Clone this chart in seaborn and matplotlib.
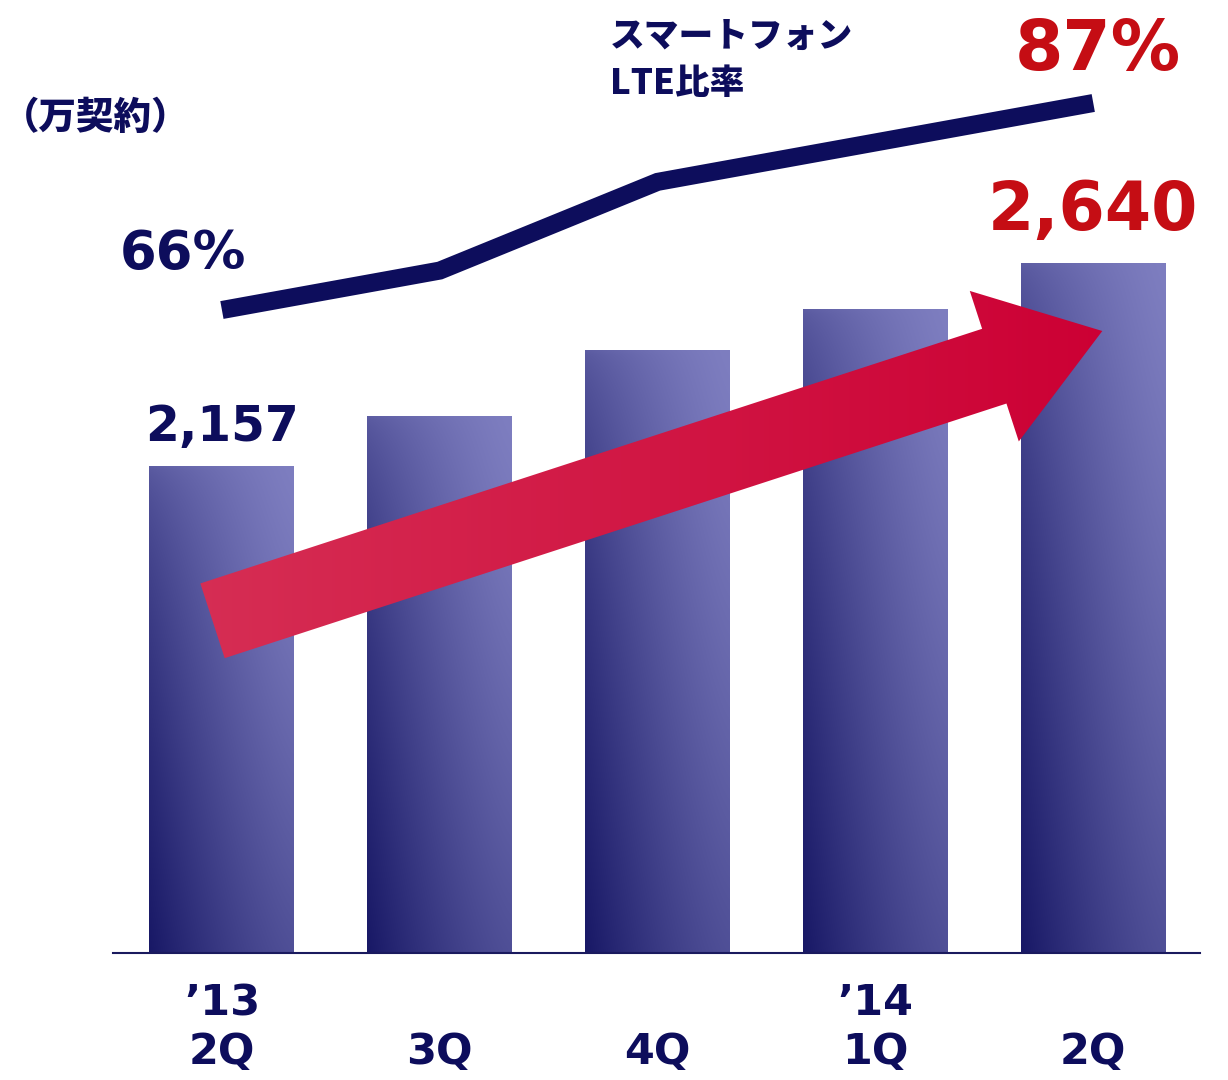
import numpy as np
import pandas as pd
import matplotlib
matplotlib.use("Agg")
import matplotlib.pyplot as plt
import seaborn as sns
from matplotlib.patches import FancyArrow

# ---- data ----
quarters = ["2Q'13", "3Q'13", "4Q'13", "1Q'14", "2Q'14"]
tick_labels = ["\u201913\n2Q", "\n3Q", "\n4Q", "\u201914\n1Q", "\n2Q"]
contracts = [2157, 2276, 2433, 2530, 2640]      # 万契約
lte_ratio = [66, 70, 79, 83, 87]                # %
unit_label = "（万契約）"
series_label = "スマートフォン\nLTE比率"

NAVY = "#0d0d5c"
RED = "#c50d14"

sns.set_theme(style="white")
plt.rcParams["font.family"] = ["DejaVu Sans", "Noto Sans CJK JP"]

W, H = 1228, 1080
fig = plt.figure(figsize=(W / 100, H / 100), dpi=100)
fig.patch.set_facecolor("white")

ax_left, ax_right, ax_bottom_px = 113, 1200, 953
ax = fig.add_axes([ax_left / W, (H - ax_bottom_px) / H,
                   (ax_right - ax_left) / W, ax_bottom_px / H])
ax.set_facecolor("none")

df = pd.DataFrame({"quarter": quarters, "contracts": contracts})
sns.barplot(data=df, x="quarter", y="contracts", color="#7c7cbe",
            width=0.665, ax=ax, zorder=2)

y_bottom, y_top = 1000, 3264
x_lo, x_hi = -0.5, 4.49

# gradient bars
L = np.array([126, 126, 192]) / 255.0
D = np.array([22, 22, 100]) / 255.0
n = 160
u = np.linspace(0, 1, n)[None, :]
v = np.linspace(1, 0, n)[:, None]   # top row v=1
t_left = 0.32 + 0.66 * (1 - v) ** 0.6
t_right = 0.45 * (1 - v) ** 1.2
t = (1 - u) ** 1.3 * t_left + (1 - (1 - u) ** 1.3) * t_right
t = np.clip(t, 0, 1)
grad = (1 - t)[..., None] * L + t[..., None] * D
for p in ax.patches:
    x0 = p.get_x()
    x1 = x0 + p.get_width()
    top = p.get_y() + p.get_height()
    im = ax.imshow(grad, extent=(x0, x1, y_bottom, top), aspect="auto",
                   zorder=2, interpolation="bilinear")
    im.set_clip_path(p)
    p.set_facecolor("none")
    p.set_edgecolor("none")

# value labels on first and last bars
ax.annotate(f"{contracts[0]:,}", xy=(0, contracts[0]), xytext=(0, 28),
            textcoords="offset points", ha="center", va="center",
            fontsize=35, fontweight="bold", color=NAVY)
ax.annotate(f"{contracts[-1]:,}", xy=(4, contracts[-1]), xytext=(0, 37),
            textcoords="offset points", ha="center", va="center",
            fontsize=48, fontweight="bold", color=RED)

ax.set_xlim(x_lo, x_hi)
ax.set_ylim(y_bottom, y_top)
ax.set_xticks(range(len(tick_labels)))
ax.set_xticklabels(tick_labels, fontsize=31, fontweight="bold", color=NAVY,
                   linespacing=1.2)
ax.tick_params(axis="x", length=0, pad=21)
ax.set_yticks([])
ax.set_xlabel("")
ax.set_ylabel("")
for s in ["top", "left", "right"]:
    ax.spines[s].set_visible(False)
ax.spines["bottom"].set_color("#1a1a5e")
ax.spines["bottom"].set_linewidth(1.5)
ax.grid(False)

# ratio line on twin axis
ax2 = ax.twinx()
sns.lineplot(x=np.arange(len(lte_ratio)), y=lte_ratio, ax=ax2, color=NAVY,
             linewidth=13, solid_capstyle="butt", solid_joinstyle="miter",
             zorder=3)
ax2.set_ylim(0.77, 97.45)
ax2.set_xlim(x_lo, x_hi)
ax2.set_yticks([])
ax2.set_ylabel("")
ax2.grid(False)
for s in ax2.spines.values():
    s.set_visible(False)

ax2.annotate(f"{lte_ratio[0]}%", xy=(0, lte_ratio[0]), xytext=(-28, 40),
             textcoords="offset points", ha="center", va="center",
             fontsize=38, fontweight="bold", color=NAVY)
ax2.annotate(f"{lte_ratio[-1]}%", xy=(4, lte_ratio[-1]), xytext=(3, 38),
             textcoords="offset points", ha="center", va="center",
             fontsize=50, fontweight="bold", color=RED)

# overlay (pixel coordinates) for the trend arrow and titles
ov = fig.add_axes([0, 0, 1, 1])
ov.set_xlim(0, W)
ov.set_ylim(H, 0)
ov.axis("off")
ov.set_facecolor("none")

tail = np.array([212.5, 620.8])
tip = np.array([1102.3, 331.0])
vec = tip - tail
arrow = FancyArrow(tail[0], tail[1], vec[0], vec[1], width=78.6,
                   head_width=158.3, head_length=113.6,
                   length_includes_head=True, facecolor="none",
                   edgecolor="none", zorder=4)
ov.add_patch(arrow)
c0 = np.array([214, 46, 84]) / 255.0
c1 = np.array([204, 0, 52]) / 255.0
gx = np.linspace(0, 1, 200)[None, :]
agrad = (1 - gx)[..., None] * c0 + gx[..., None] * c1
agrad = np.repeat(agrad, 2, axis=0)
aim = ov.imshow(agrad, extent=(190, 1110, 700, 280), aspect="auto",
                zorder=4, interpolation="bilinear")
aim.set_clip_path(arrow)
ov.set_xlim(0, W)
ov.set_ylim(H, 0)

ov.text(2, 118, unit_label, ha="left", va="center", fontsize=27,
        fontweight="black", color=NAVY, family=["Noto Sans CJK JP"])
ov.text(610, 60, series_label, ha="left", va="center", fontsize=25,
        fontweight="black", color=NAVY, family=["Noto Sans CJK JP"],
        linespacing=1.4)

fig.savefig("out.png", dpi=100, facecolor="white")
